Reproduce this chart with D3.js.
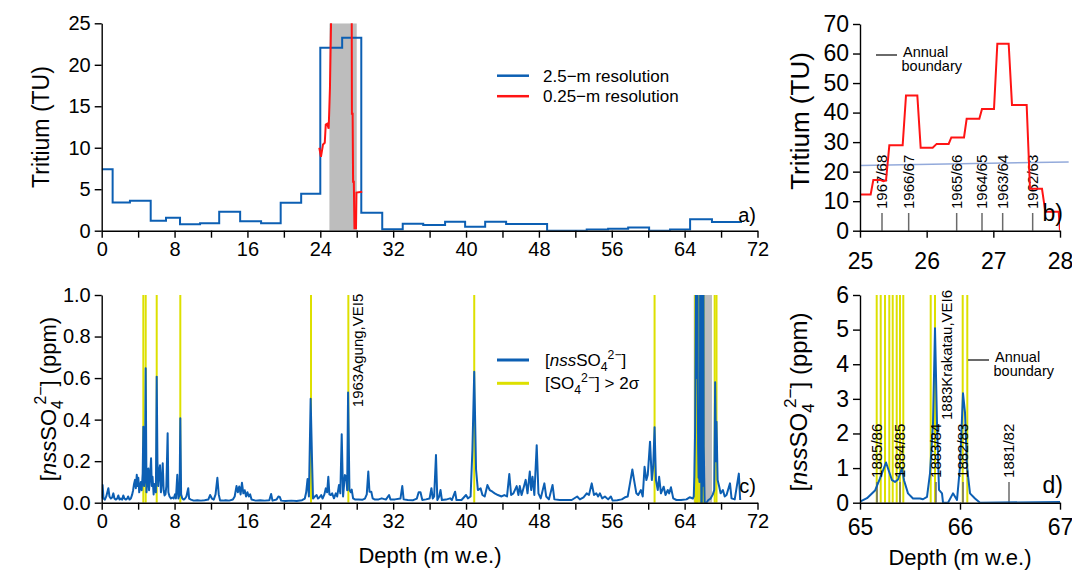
<!DOCTYPE html>
<html>
<head>
<meta charset="utf-8">
<script src="https://cdn.jsdelivr.net/npm/d3@7"></script>
<style>
  body { margin: 0; background: #fff; }
  svg { font-family: "Liberation Sans", Arial, sans-serif; }
</style>
</head>
<body>
<svg id="chart" width="1072" height="575"></svg>
<script>
// ---- panel a: tritium, 2.5-m steps (start depth of each step, value)
const lowResDepth = [0, 1.2, 3.1, 5.38, 7.06, 8.6, 10.8, 12.9, 15.2, 17.5, 19.65, 21.9, 24.0, 26.4, 28.5, 30.8, 33.05, 35.3, 37.7, 39.9, 42.1, 44.4, 48.9, 53.25, 55.6, 57.8, 60.1, 62.4, 64.6, 67.0, 70.3];
const lowResTritium = [7.4, 3.4, 3.6, 1.2, 1.57, 0.77, 0.89, 2.29, 1.13, 0.89, 3.37, 4.46, 22.05, 23.25, 2.17, 0.16, 0.85, 0.7, 1.08, 0.49, 1.09, 0.8, 0.0, 0.13, 0.24, 0.4, 0.0, 0.13, 1.37, 1.05, 1.05];

// ---- panel a: tritium, 0.25-m resolution
const hiResDepthA = [23.89, 24.07, 24.3, 24.49, 24.6, 24.75, 24.92, 25.06, 25.24, 25.5, 26.0, 26.6, 27.2, 27.42, 27.47, 27.55, 27.6, 27.68, 27.75, 27.92, 27.97, 28.6];
const hiResTritiumA = [10.0, 8.9, 10.4, 10.6, 12.8, 12.9, 12.3, 17.2, 28.9, 45.8, 29.4, 63.3, 42.6, 42.6, 14.1, 14.1, 5.9, 5.9, 0.3, 0.3, 4.6, 4.7];

// ---- panel b: tritium 25-28 m w.e.
const hiResDepthB = [25.0, 25.16, 25.2, 25.3, 25.35, 25.39, 25.44, 25.64, 25.69, 25.86, 25.91, 26.09, 26.15, 26.33, 26.37, 26.56, 26.6, 26.79, 26.83, 27.01, 27.06, 27.23, 27.28, 27.5, 27.55, 27.73, 27.78, 27.98, 28.0];
const hiResTritiumB = [12.3, 12.3, 17.2, 17.2, 16.8, 17.0, 28.9, 28.9, 45.8, 45.8, 28.1, 28.1, 29.4, 29.4, 31.6, 31.6, 37.9, 37.9, 41.2, 41.2, 63.3, 63.3, 42.6, 42.6, 14.2, 14.2, 6.4, 6.4, 0];
const meanDepthB = [25.0, 28.13];
const meanTritiumB = [22.1, 23.3];
const boundaryDepthB = [25.33, 25.73, 26.45, 26.83, 27.14, 27.59];
const boundaryLabelB = ['1967/68', '1966/67', '1965/66', '1964/65', '1963/64', '1962/63'];

// ---- panel d: nss sulfate 65-67 m w.e.
const sulfDepthD = [65.0, 65.07, 65.15, 65.2, 65.26, 65.32, 65.35, 65.38, 65.42, 65.44, 65.48, 65.53, 65.6, 65.63, 65.67, 65.7, 65.73, 65.75, 65.77, 65.79, 65.82, 65.83, 65.88, 65.93, 65.97, 66.0, 66.03, 66.05, 66.07, 66.1, 66.15, 66.2, 67.0];
const sulfD = [0.03, 0.13, 0.35, 0.7, 1.16, 0.65, 0.6, 0.67, 1.0, 0.65, 0.27, 0.12, 0.12, 0.1, 0.17, 0.85, 2.3, 5.04, 2.3, 0.37, 0.27, 0, 0, 0.27, 0.08, 1.04, 3.16, 2.6, 1.04, 0.27, 0.12, 0, 0.02];
const yellowDepthD = [65.167, 65.207, 65.25, 65.293, 65.327, 65.367, 65.40, 65.433, 65.707, 65.75, 66.027, 66.073];
const boundaryDepthD = [65.17, 65.4, 65.76, 66.03, 66.49];
const boundaryLabelD = ['1885/86', '1884/85', '1883/84', '1882/83', '1881/82'];

// ---- panel c: nss sulfate, whole core (65-66.2 comes from panel d)
const sulfC = [
  [0.0,0.02],[0.1,0.085],[0.2,0.02],[0.35,0.015],[0.5,0.03],[0.73,0.07],[0.85,0.03],[1.0,0.02],[1.15,0.025],[1.28,0.045],
  [1.4,0.02],[1.55,0.015],[1.7,0.02],[1.83,0.035],[1.95,0.015],[2.1,0.02],[2.25,0.015],[2.37,0.035],[2.5,0.02],[2.65,0.015],
  [2.8,0.02],[2.9,0.03],[3.05,0.015],[3.2,0.02],[3.35,0.04],[3.45,0.06],[3.55,0.09],[3.66,0.11],[3.75,0.07],[3.85,0.134],
  [3.95,0.08],[4.02,0.12],[4.12,0.05],[4.2,0.07],[4.3,0.1],[4.39,0.06],[4.5,0.14],[4.57,0.366],[4.65,0.08],[4.75,0.12],
  [4.83,0.647],[4.92,0.05],[5.0,0.1],[5.12,0.165],[5.2,0.06],[5.3,0.12],[5.42,0.214],[5.5,0.08],[5.58,0.125],[5.7,0.04],
  [5.8,0.09],[5.95,0.05],[6.04,0.607],[6.12,0.2],[6.2,0.08],[6.3,0.15],[6.4,0.18],[6.5,0.05],[6.6,0.1],[6.7,0.19],
  [6.8,0.06],[6.9,0.035],[7.0,0.04],[7.1,0.08],[7.24,0.334],[7.32,0.05],[7.45,0.03],[7.6,0.02],[7.75,0.025],[7.9,0.02],
  [8.05,0.04],[8.15,0.02],[8.3,0.134],[8.42,0.02],[8.55,0.04],[8.63,0.406],[8.72,0.04],[8.85,0.02],[9.0,0.015],[9.15,0.02],
  [9.3,0.03],[9.5,0.07],[9.6,0.02],[9.8,0.015],[10.1,0.01],[10.5,0.012],[10.9,0.01],[11.3,0.012],[11.7,0.015],[11.9,0.037],
  [12.1,0.02],[12.3,0.015],[12.5,0.04],[12.7,0.12],[12.85,0.04],[13.0,0.01],[13.3,0.01],[13.6,0.012],[14.0,0.01],[14.4,0.015],
  [14.6,0.03],[14.8,0.08],[14.95,0.05],[15.1,0.078],[15.25,0.04],[15.4,0.096],[15.55,0.045],[15.7,0.06],[15.85,0.03],[16.0,0.05],
  [16.15,0.03],[16.3,0.04],[16.45,0.015],[16.9,0.01],[17.4,0.012],[17.9,0.01],[18.4,0.012],[18.6,0.042],[18.75,0.01],[19.2,0.015],
  [19.4,0.03],[19.55,0.028],[19.7,0.01],[20.2,0.008],[20.8,0.01],[21.4,0.008],[22.0,0.012],[22.3,0.02],[22.45,0.05],[22.6,0.114],
  [22.75,0.03],[22.94,0.5],[23.1,0.19],[23.2,0.02],[23.4,0.03],[23.6,0.037],[23.75,0.02],[23.9,0.025],[24.1,0.037],[24.25,0.02],
  [24.45,0.04],[24.6,0.069],[24.75,0.05],[24.88,0.125],[25.0,0.04],[25.15,0.037],[25.3,0.045],[25.5,0.021],[25.7,0.045],[25.85,0.03],
  [26.05,0.085],[26.2,0.045],[26.35,0.33],[26.5,0.03],[26.7,0.133],[26.85,0.125],[26.95,0.06],[27.05,0.53],[27.2,0.061],[27.35,0.05],
  [27.45,0.063],[27.6,0.021],[27.8,0.016],[28.2,0.015],[28.6,0.014],[28.9,0.02],[29.1,0.04],[29.27,0.15],[29.4,0.053],[29.6,0.053],
  [29.75,0.021],[30.0,0.015],[30.4,0.016],[30.75,0.021],[31.2,0.015],[31.55,0.037],[31.7,0.016],[32.2,0.016],[32.8,0.02],[33.0,0.08],
  [33.15,0.016],[33.6,0.013],[34.2,0.012],[34.6,0.02],[34.8,0.05],[35.0,0.05],[35.2,0.013],[35.6,0.016],[36.0,0.02],[36.2,0.07],
  [36.35,0.02],[36.5,0.03],[36.7,0.23],[36.85,0.013],[37.05,0.03],[37.2,0.061],[37.35,0.013],[37.8,0.015],[38.25,0.021],[38.45,0.013],
  [38.8,0.053],[38.95,0.013],[39.5,0.013],[40.0,0.037],[40.2,0.021],[40.5,0.03],[40.7,0.254],[40.9,0.63],[41.1,0.16],[41.3,0.061],
  [41.6,0.069],[41.8,0.037],[42.05,0.03],[42.35,0.085],[42.6,0.061],[42.9,0.053],[43.15,0.045],[43.5,0.037],[43.9,0.03],[44.2,0.037],
  [44.5,0.03],[44.75,0.138],[44.95,0.037],[45.2,0.045],[45.56,0.08],[45.75,0.037],[45.9,0.08],[46.1,0.037],[46.35,0.077],[46.55,0.11],
  [46.75,0.045],[47.0,0.15],[47.15,0.061],[47.3,0.125],[47.5,0.037],[47.76,0.277],[47.95,0.045],[48.2,0.021],[48.6,0.093],[48.8,0.03],
  [49.1,0.016],[49.5,0.085],[49.7,0.016],[50.3,0.013],[51.0,0.013],[51.6,0.013],[52.2,0.03],[52.5,0.016],[52.9,0.026],[53.25,0.045],
  [53.5,0.037],[53.8,0.093],[54.05,0.037],[54.3,0.045],[54.5,0.03],[54.7,0.045],[54.95,0.021],[55.25,0.03],[55.6,0.016],[55.9,0.03],
  [56.1,0.01],[56.6,0.012],[57.1,0.016],[57.45,0.026],[57.75,0.03],[58.0,0.093],[58.26,0.16],[58.45,0.109],[58.7,0.045],[58.9,0.037],
  [59.2,0.061],[59.4,0.03],[59.6,0.173],[59.8,0.109],[59.95,0.133],[60.2,0.294],[60.4,0.109],[60.55,0.173],[60.7,0.363],[60.85,0.109],
  [61.05,0.061],[61.2,0.125],[61.4,0.045],[61.7,0.077],[61.9,0.037],[62.15,0.061],[62.3,0.045],[62.5,0.074],[62.75,0.021],[63.1,0.013],
  [63.6,0.013],[64.2,0.016],[64.55,0.026],[64.9,0.02],
  [66.4,0.0],[66.6,0.013],[66.85,0.02],[67.1,0.04],[67.25,0.061],[67.35,0.58],[67.45,0.2],[67.5,0.39],[67.62,0.109],[67.8,0.077],
  [67.95,0.045],[68.2,0.061],[68.4,0.03],[68.6,0.037],[68.98,0.093],[69.15,0.021],[69.5,0.016],[69.95,0.14],[70.1,0.013]
];
const yellowDepthC = [4.57, 4.83, 6.04, 8.63, 22.98, 27.08, 40.9, 60.7, 67.3, 67.5];

// ---- axes ticks
const depthTicksAC = d3.range(0, 73, 4);
const depthLabelsAC = [0, 8, 16, 24, 32, 40, 48, 56, 64, 72];
const tritiumTicksA = [0, 5, 10, 15, 20, 25];
const tritiumTicksB = [0, 10, 20, 30, 40, 50, 60, 70];
const depthTicksB = [25, 26, 27, 28];
const sulfTicksC = [0, 0.2, 0.4, 0.6, 0.8, 1.0];
const sulfTicksD = [0, 1, 2, 3, 4, 5, 6];
const depthTicksD = [65, 66, 67];

const BLUE = '#0c5fb3', RED = '#ff1414', YELLOW = '#dde000', BAND = '#bdbdbd', BOUND = '#6a6a6a', MEAN = '#93aadb';

const svg = d3.select('#chart');

const xA = d3.scaleLinear([0, 72], [101.7, 757.5]);
const yA = d3.scaleLinear([0, 25], [230.7, 23.3]);
const xB = d3.scaleLinear([25, 28], [860, 1060]);
const yB = d3.scaleLinear([0, 70], [230.7, 24]);
const xC = xA.copy();
const yC = d3.scaleLinear([0, 1], [502.7, 295]);
const xD = d3.scaleLinear([65, 67], [860, 1060]);
const yD = d3.scaleLinear([0, 6], [502.7, 295]);

function clip(id, x, y) {
    svg.append('clipPath').attr('id', id).append('rect')
        .attr('x', x.range()[0]).attr('y', y.range()[1])
        .attr('width', x.range()[1] - x.range()[0])
        .attr('height', y.range()[0] - y.range()[1]);
    return svg.append('g').attr('clip-path', `url(#${id})`);
}

function axes(x, y, o) {
    const gx = svg.append('g')
        .attr('transform', `translate(0,${y.range()[0]})`)
        .call(d3.axisBottom(x).tickValues(o.xTicks).tickSize(7).tickSizeOuter(0).tickPadding(o.xPad)
            .tickFormat(d => (o.xLabels ? (o.xLabels.includes(d) ? d : '') : d)));
    const gy = svg.append('g')
        .attr('transform', `translate(${x.range()[0]},0)`)
        .call(d3.axisLeft(y).tickValues(o.yTicks).tickSize(7).tickSizeOuter(0).tickPadding(o.yPad)
            .tickFormat(o.yFormat || (d => d)));
    [gx, gy].forEach(g => {
        g.attr('font-family', null).attr('font-size', o.fs);
        g.selectAll('path, line').attr('stroke', '#000').attr('stroke-width', 1.4);
        g.selectAll('text').attr('fill', '#000');
    });
}

const lineXY = (x, y) => d3.line().x(d => x(d[0])).y(d => y(d[1]));
const zip = (a, b) => a.map((v, i) => [v, b[i]]);

function boundaryLegend(x, y) {
    svg.append('line').attr('x1', x).attr('x2', x + 21).attr('y1', y).attr('y2', y)
        .attr('stroke', BOUND).attr('stroke-width', 2);
    svg.append('text').attr('x', x + 27).attr('y', y + 1.5).attr('font-size', 14.5).text('Annual');
    svg.append('text').attr('x', x + 25.5).attr('y', y + 15.5).attr('font-size', 14.5).text('boundary');
}

// ================= panel a
const gA = clip('clipA', xA, yA);
gA.append('rect').attr('x', xA(25)).attr('width', xA(28) - xA(25))
    .attr('y', yA(25)).attr('height', yA(0) - yA(25)).attr('fill', BAND);
gA.append('path').datum(zip(lowResDepth, lowResTritium))
    .attr('d', lineXY(xA, yA).curve(d3.curveStepAfter))
    .attr('fill', 'none').attr('stroke', BLUE).attr('stroke-width', 2);
gA.append('path').datum(zip(hiResDepthA, hiResTritiumA))
    .attr('d', lineXY(xA, yA))
    .attr('fill', 'none').attr('stroke', RED).attr('stroke-width', 2);
axes(xA, yA, { xTicks: depthTicksAC, xLabels: depthLabelsAC, yTicks: tritiumTicksA, fs: 20, xPad: 4, yPad: 4 });

// legend a
[['2.5−m resolution', BLUE], ['0.25−m resolution', RED]].forEach(([t, c], i) => {
    const yy = 75.7 + i * 20.5;
    svg.append('line').attr('x1', 497).attr('x2', 529).attr('y1', yy).attr('y2', yy)
        .attr('stroke', c).attr('stroke-width', 2.5);
    svg.append('text').attr('x', 543).attr('y', yy).attr('dy', '0.35em')
        .attr('font-size', 17).text(t);
});
svg.append('text').attr('x', 756).attr('y', 222).attr('text-anchor', 'end').attr('font-size', 20).text('a)');

// ================= panel b
const gB = svg.append('g');
gB.append('path').datum(zip(meanDepthB, meanTritiumB))
    .attr('d', lineXY(xB, yB)).attr('fill', 'none').attr('stroke', MEAN).attr('stroke-width', 1.5);
const gBc = clip('clipB', xB, yB);
gBc.append('path').datum(zip(hiResDepthB, hiResTritiumB))
    .attr('d', lineXY(xB, yB)).attr('fill', 'none').attr('stroke', RED).attr('stroke-width', 2);
boundaryDepthB.forEach((d, i) => {
    gB.append('line').attr('x1', xB(d)).attr('x2', xB(d)).attr('y1', yB(0)).attr('y2', yB(6))
        .attr('stroke', BOUND).attr('stroke-width', 1.5);
    gB.append('text').attr('transform', `translate(${xB(d)},${yB(6) - 4}) rotate(-90)`)
        .attr('dy', '0.36em').attr('font-size', 15).text(boundaryLabelB[i]);
});
axes(xB, yB, { xTicks: depthTicksB, yTicks: tritiumTicksB, fs: 23, xPad: 15, yPad: 4 });
boundaryLegend(876, 55);
svg.append('text').attr('x', 1063).attr('y', 221).attr('text-anchor', 'end').attr('font-size', 23).text('b)');

// ================= panel c
const gC = clip('clipC', xC, yC);
gC.append('rect').attr('x', xC(65)).attr('width', xC(67) - xC(65))
    .attr('y', yC(1)).attr('height', yC(0) - yC(1)).attr('fill', BAND);
yellowDepthC.concat(yellowDepthD).forEach(d => {
    gC.append('line').attr('x1', xC(d)).attr('x2', xC(d)).attr('y1', yC(0)).attr('y2', yC(1))
        .attr('stroke', YELLOW).attr('stroke-width', 2);
});
const sulfFull = sulfC.filter(p => p[0] < 65)
    .concat(zip(sulfDepthD, sulfD).filter(p => p[0] <= 66.2))
    .concat(sulfC.filter(p => p[0] > 66.2));
gC.append('path').datum(sulfFull).attr('d', lineXY(xC, yC))
    .attr('fill', 'none').attr('stroke', BLUE).attr('stroke-width', 2).attr('stroke-linejoin', 'round');
axes(xC, yC, { xTicks: depthTicksAC, xLabels: depthLabelsAC, yTicks: sulfTicksC, fs: 20, xPad: 4, yPad: 4, yFormat: d3.format('.1f') });
svg.append('text').attr('transform', `translate(363,${yC(0.46)}) rotate(-90)`).attr('font-size', 15).text('1963Agung,VEI5');

// legend c
function so4(t, fs, italicNss) {
    t.append('tspan').text('[');
    if (italicNss) t.append('tspan').attr('font-style', 'italic').text('nss');
    t.append('tspan').text('SO');
    t.append('tspan').attr('font-size', fs * 0.72).attr('dy', fs * 0.3).text('4');
    t.append('tspan').attr('font-size', fs * 0.72).attr('dy', -fs * 0.72).text('2−');
    t.append('tspan').attr('dy', fs * 0.42).text(']');
}
[[BLUE, true, ''], [YELLOW, false, ' > 2σ']].forEach(([c, nss, tail], i) => {
    const yy = 360 + i * 23.3;
    svg.append('line').attr('x1', 497).attr('x2', 529).attr('y1', yy).attr('y2', yy)
        .attr('stroke', c).attr('stroke-width', 3);
    const t = svg.append('text').attr('x', 545).attr('y', yy + 6).attr('font-size', 17);
    so4(t, 17, nss);
    if (tail) t.append('tspan').text(tail);
});
svg.append('text').attr('x', 756).attr('y', 493).attr('text-anchor', 'end').attr('font-size', 20).text('c)');

// ================= panel d
const gD = clip('clipD', xD, yD);
yellowDepthD.forEach(d => {
    gD.append('line').attr('x1', xD(d)).attr('x2', xD(d)).attr('y1', yD(0)).attr('y2', yD(6))
        .attr('stroke', YELLOW).attr('stroke-width', 2);
});
boundaryDepthD.forEach(d => {
    gD.append('line').attr('x1', xD(d)).attr('x2', xD(d)).attr('y1', yD(0)).attr('y2', yD(0.6))
        .attr('stroke', BOUND).attr('stroke-width', 1.5);
});
gD.append('path').datum(zip(sulfDepthD, sulfD)).attr('d', lineXY(xD, yD))
    .attr('fill', 'none').attr('stroke', BLUE).attr('stroke-width', 2).attr('stroke-linejoin', 'round');
boundaryDepthD.forEach((d, i) => {
    svg.append('text').attr('transform', `translate(${xD(d)},${yD(0.6) - 4}) rotate(-90)`)
        .attr('dy', '0.36em').attr('font-size', 15).text(boundaryLabelD[i]);
});
svg.append('text').attr('transform', `translate(952,420) rotate(-90)`).attr('font-size', 15).text('1883Krakatau,VEI6');
axes(xD, yD, { xTicks: depthTicksD, yTicks: sulfTicksD, fs: 23, xPad: 9, yPad: 4 });
boundaryLegend(968, 360);
svg.append('text').attr('x', 1063).attr('y', 493).attr('text-anchor', 'end').attr('font-size', 23).text('d)');

// ================= axis titles
function yTitle(x, y, fs, build) {
    const t = svg.append('text').attr('transform', `translate(${x},${y}) rotate(-90)`)
        .attr('text-anchor', 'middle').attr('font-size', fs);
    build(t, fs);
}
yTitle(49, 127, 23, t => t.text('Tritium (TU)'));
yTitle(809, 121, 26, t => t.text('Tritium (TU)'));
const sulfTitle = (t, fs) => {
    t.append('tspan').text('[');
    t.append('tspan').attr('font-style', 'italic').text('nss');
    t.append('tspan').text('SO');
    t.append('tspan').attr('font-size', fs * 0.72).attr('dy', fs * 0.3).text('4');
    t.append('tspan').attr('font-size', fs * 0.72).attr('dx', -fs * 0.2).attr('dy', -fs * 0.75).text('2−');
    t.append('tspan').attr('dy', fs * 0.45).text('] (ppm)');
};
yTitle(56, 399, 22, sulfTitle);
yTitle(807, 402, 24, sulfTitle);
svg.append('text').attr('x', 430).attr('y', 563).attr('text-anchor', 'middle').attr('font-size', 22).text('Depth (m w.e.)');
svg.append('text').attr('x', 960).attr('y', 565).attr('text-anchor', 'middle').attr('font-size', 22).text('Depth (m w.e.)');
</script>
</body>
</html>
